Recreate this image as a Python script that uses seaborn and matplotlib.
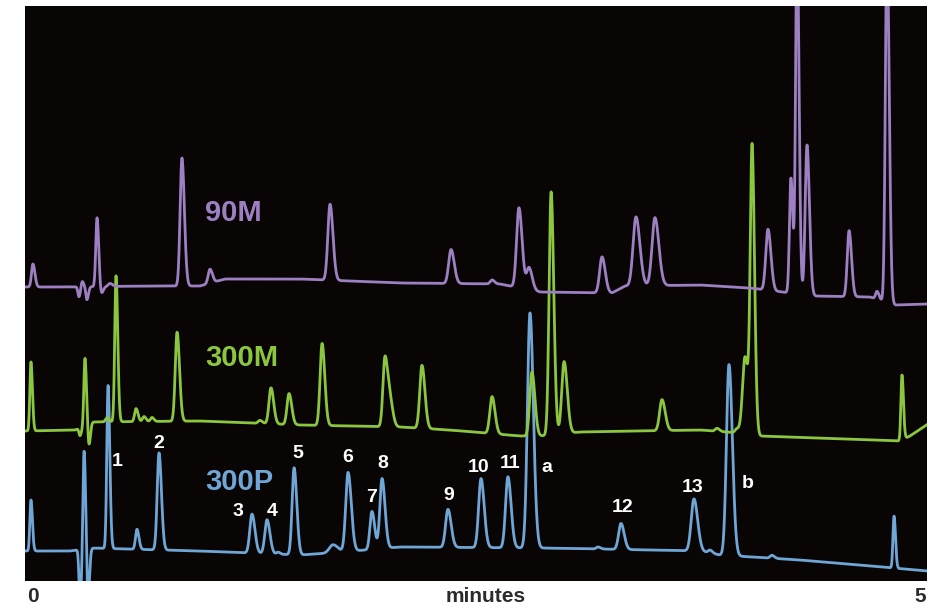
import numpy as np
import pandas as pd
from matplotlib import pyplot as plt
import seaborn as sns

# peak tables: retention time (min), height, width (min)
p90_t = [0.044, 0.299, 0.316, 0.343, 0.399, 0.421, 0.471, 0.869, 1.024, 1.689, 2.359, 2.586,
         2.735, 2.791, 3.195, 3.383, 3.488, 4.114, 4.241, 4.275, 4.330, 4.563, 4.718, 4.773]
p90_h = [23, -10, 6, -13, 69, -8, 3, 128, 14, 76, 34, 4,
         80, 22, 36, 69, 68, 61, 115, 360, 150, 66, 8, 360]
p90_w = [0.008, 0.006, 0.006, 0.006, 0.007, 0.008, 0.010, 0.010, 0.010, 0.012, 0.013, 0.010,
         0.013, 0.013, 0.013, 0.016, 0.016, 0.012, 0.008, 0.008, 0.010, 0.010, 0.008, 0.009]
base90_t = [0, 0.194, 0.692, 0.969, 1.107, 1.523, 2.076, 2.630, 2.852, 3.250, 3.322, 3.738, 4.014, 4.374, 4.679, 4.817, 5.0]
base90_y = [294, 294, 295, 295, 302, 302, 298, 297, 289, 288, 295, 296, 293, 285, 284, 276, 277]

p300m_t = [0.033, 0.305, 0.332, 0.354, 0.454, 0.504, 0.615, 0.659, 0.703, 0.842, 1.301, 1.362,
           1.462, 1.645, 1.993, 2.021, 2.198, 2.586, 2.807, 2.913, 2.985, 3.527, 3.832, 3.942,
           3.987, 4.026, 4.856]
p300m_h = [69, -8, 67, -22, 4, 146, 13, 5, 4, 89, 3, 36,
           31, 82, 69, 25, 63, 37, 64, 243, 72, 31, 3, 4,
           77, 282, 65]
p300m_w = [0.006, 0.006, 0.006, 0.006, 0.008, 0.007, 0.008, 0.008, 0.008, 0.010, 0.010, 0.011,
           0.011, 0.011, 0.011, 0.012, 0.012, 0.012, 0.012, 0.011, 0.013, 0.013, 0.010, 0.010,
           0.014, 0.010, 0.006]
base300m_t = [0, 0.277, 0.371, 0.969, 1.523, 2.076, 2.353, 2.741, 2.852, 3.073, 3.738, 3.959, 4.070, 4.845, 4.900, 5.0]
base300m_y = [150, 151, 159, 160, 156, 154, 151, 145, 145, 149, 151, 148, 145, 140, 145, 157]

p300p_t = [0.033, 0.305, 0.327, 0.349, 0.460, 0.620, 0.742, 1.257, 1.340, 1.401, 1.490, 1.705,
           1.789, 1.921, 1.977, 2.342, 2.525, 2.674, 2.796, 3.173, 3.300, 3.704, 3.793, 3.898,
           4.136, 4.812]
p300p_h = [51, -50, 99, -50, 163, 20, 97, 39, 34, 2, 87, 8,
           79, 38, 70, 38, 69, 71, 235, 2, 26, 52, 3, 191,
           3, 52]
p300p_w = [0.006, 0.006, 0.006, 0.006, 0.007, 0.008, 0.010, 0.012, 0.012, 0.008, 0.011, 0.020,
           0.013, 0.011, 0.012, 0.013, 0.013, 0.013, 0.014, 0.010, 0.013, 0.015, 0.010, 0.014,
           0.010, 0.006]
base300p_t = [0, 0.249, 0.360, 0.969, 1.523, 1.689, 2.076, 2.852, 3.184, 3.738, 3.848, 4.291, 5.0]
base300p_y = [30, 30, 33, 30, 26, 28, 34, 33, 32, 30, 26, 21, 10]

peak_labels = ['1', '2', '3', '4', '5', '6', '7', '8', '9', '10', '11', 'a', '12', '13', 'b']
label_t = [0.509, 0.742, 1.179, 1.368, 1.512, 1.789, 1.921, 1.982, 2.348, 2.514, 2.685, 2.890, 3.306, 3.699, 4.003]
label_y = [119, 137, 69, 69, 127, 123, 83, 118, 86, 114, 117, 113, 73, 93, 98]

names = ['90M', '300M', '300P']
colors = ['#9d80c2', '#8cc63e', '#6fa6d6']
name_y = [368, 223, 99]


def trace(bt, by, pt, ph, pw, t):
    y = np.interp(t, bt, by)
    for c, h, w in zip(pt, ph, pw):
        s = np.where(t < c, w, w * 1.35)
        y = y + h * np.exp(-0.5 * ((t - c) / s) ** 2)
    return y


t = np.linspace(0, 5, 6000)
frames = []
for name, args in zip(names, [(base90_t, base90_y, p90_t, p90_h, p90_w),
                              (base300m_t, base300m_y, p300m_t, p300m_h, p300m_w),
                              (base300p_t, base300p_y, p300p_t, p300p_h, p300p_w)]):
    frames.append(pd.DataFrame({'time': t, 'signal': trace(*args, t), 'trace': name}))
df = pd.concat(frames)

sns.set_style('dark', {'axes.facecolor': '#090505'})
plt.rcParams['font.family'] = ['Liberation Sans', 'DejaVu Sans']

fig = plt.figure(figsize=(9.28, 6.09), dpi=100)
ax = fig.add_axes([25 / 928, 28 / 609, 903 / 928, 575 / 609])
sns.lineplot(data=df, x='time', y='signal', hue='trace', hue_order=names[::-1],
             palette=dict(zip(names, colors)), estimator=None, sort=False,
             lw=2.0, legend=False, ax=ax)
ax.set_xlim(0, 5)
ax.set_ylim(0, 575)
ax.set_xticks([])
ax.set_yticks([])
ax.set_xlabel('')
ax.set_ylabel('')
for sp in ax.spines.values():
    sp.set_visible(False)

for n, c, y in zip(names, colors, name_y):
    ax.text(0.997, y, n, color=c, fontsize=21, fontweight='bold', va='center', ha='left')
for lab, x, y in zip(peak_labels, label_t, label_y):
    ax.text(x, y, lab, color='white', fontsize=14, fontweight='bold', va='center', ha='center')

fig.text(27 / 928, 12 / 609, '0', color='#2b2b2b', fontsize=15, fontweight='bold', va='center', ha='left')
fig.text(486 / 928, 12 / 609, 'minutes', color='#2b2b2b', fontsize=15, fontweight='bold', va='center', ha='center')
fig.text(926 / 928, 12 / 609, '5', color='#2b2b2b', fontsize=15, fontweight='bold', va='center', ha='right')

fig.savefig('out.png', dpi=100, facecolor='white')
